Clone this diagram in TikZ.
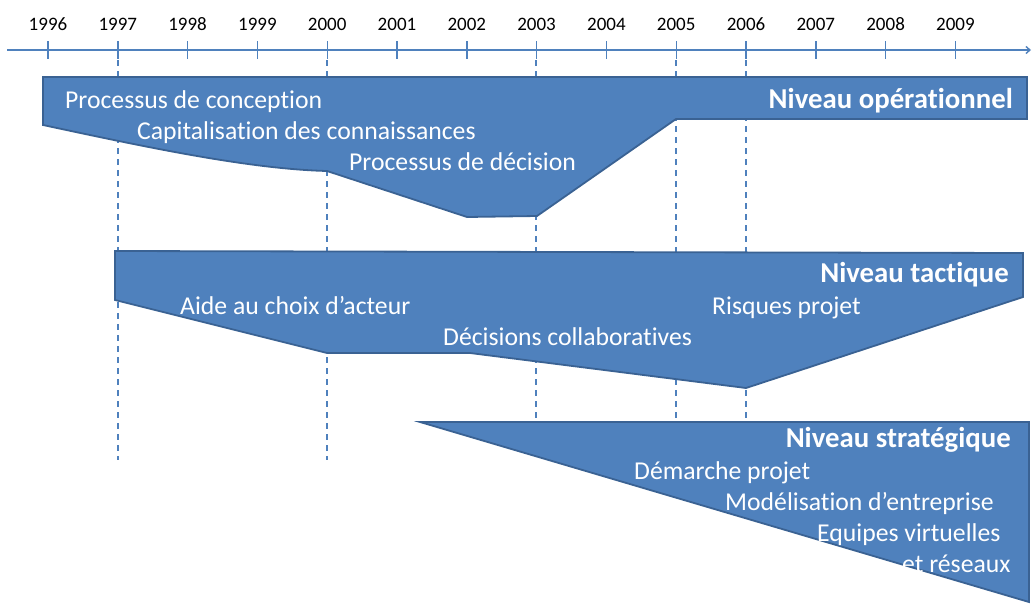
\documentclass[tikz,border=0pt]{standalone}
\usepackage{fontspec}
\setmainfont{Carlito}[Ligatures={NoCommon}]
\usetikzlibrary{arrows.meta}
\definecolor{bfill}{HTML}{4F81BD}
\definecolor{bdraw}{HTML}{3A6293}
\tikzset{
  band/.style={fill=bfill, draw=bdraw, line width=1.8pt, line join=miter},
  guide/.style={draw=bfill, line width=1.1pt, dash pattern=on 6pt off 5pt},
  tick/.style={draw=bfill, line width=1.4pt},
  year/.style={anchor=base, inner sep=0pt, font=\fontsize{19}{22}\selectfont, text=black},
  lbl/.style={anchor=base west, inner sep=0pt, font=\fontsize{25.7}{30}\selectfont, text=white},
  lvl/.style={anchor=base east, inner sep=0pt, font=\fontsize{28.8}{32}\selectfont\bfseries, text=white}
}
\begin{document}
\begin{tikzpicture}[x=1pt, y=-1pt]
\useasboundingbox (0,0) rectangle (1032,603);
% dashed guides
\foreach \xx/\yb in {118/460, 327/460, 536/422, 676/422, 746/422}{
  \coordinate (gt\xx) at (\xx,60);
  \coordinate (gb\xx) at (\xx,\yb);
  \draw[guide] (gt\xx) -- (gb\xx);
}
% axis
\coordinate (axs) at (7,50);
\coordinate (axe) at (1031,50);
\draw[tick, -{Straight Barb[length=4pt,width=7pt]}] (axs) -- (axe);
\foreach \i/\yr in {0/1996,1/1997,2/1998,3/1999,4/2000,5/2001,6/2002,7/2003,8/2004,9/2005,10/2006,11/2007,12/2008,13/2009}{
  \pgfmathsetmacro{\xx}{48+69.8*\i}
  \coordinate (tt\i) at (\xx,41);
  \coordinate (tb\i) at (\xx,59);
  \draw[tick] (tt\i) -- (tb\i);
  \node[year] (y\i) at (\xx,30) {\yr};
}
% operational band
\draw[band] (43,77) -- (1027,77) -- (1027,119) -- (676,119) -- (537,216) -- (467,217)
  -- (327,171) .. controls (250,169) and (150,148) .. (43,125) -- cycle;
% tactical band
\draw[band] (115,251) -- (1023,253) -- (1023,297) -- (746,388) -- (470,353) -- (327,353) -- (115,300) -- cycle;
% strategic band
\draw[band] (420,422) -- (1029,422) -- (1029,602) -- cycle;
% labels
\node[lbl] (l1) at (65,108) {Processus de conception};
\node[lbl] (l2) at (137,139) {Capitalisation des connaissances};
\node[lbl] (l3) at (349,170) {Processus de décision};
\node[lvl] (n1) at (1013,108) {Niveau opérationnel};
\node[lvl] (n2) at (1009,282) {Niveau tactique};
\node[lbl] (l4) at (180,314) {Aide au choix d’acteur};
\node[lbl] (l5) at (712,314) {Risques projet};
\node[lbl] (l6) at (443,345) {Décisions collaboratives};
\node[lvl] (n3) at (1011,447) {Niveau stratégique};
\node[lbl] (l7) at (634,479) {Démarche projet};
\node[lbl] (l8) at (725,510) {Modélisation d’entreprise};
\node[lbl] (l9) at (817,541) {Equipes virtuelles};
\node[lbl] (l10) at (902,572) {et réseaux};
\end{tikzpicture}
\end{document}
